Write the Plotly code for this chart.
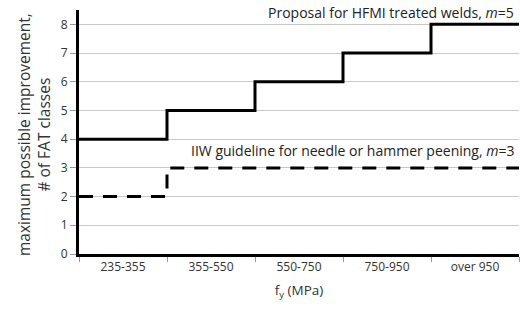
import plotly.graph_objects as go

categories = ["235-355", "355-550", "550-750", "750-950", "over 950"]
hfmi_values = [4, 5, 6, 7, 8]
iiw_values = [2, 3, 3, 3, 3]
y_ticks = [0, 1, 2, 3, 4, 5, 6, 7, 8]

n = len(categories)
edges = list(range(n + 1))
centers = [i + 0.5 for i in range(n)]

FONT = "Open Sans"
fig = go.Figure()
fig.add_trace(go.Scatter(
    x=edges, y=hfmi_values + [hfmi_values[-1]], mode="lines", line_shape="hv",
    line=dict(color="black", width=3), showlegend=False, hoverinfo="skip"))
fig.add_trace(go.Scatter(
    x=edges, y=iiw_values + [iiw_values[-1]], mode="lines", line_shape="hv",
    line=dict(color="black", width=3, dash="14px,10px"), showlegend=False, hoverinfo="skip"))

fig.add_annotation(x=5, y=8, xref="x", yref="y", text="Proposal for HFMI treated welds, <i>m</i>=5",
                   showarrow=False, xanchor="right", yanchor="bottom", yshift=0, xshift=-3,
                   font=dict(family=FONT, size=14, color="#222"))
fig.add_annotation(x=5, y=3, xref="x", yref="y", text="IIW guideline for needle or hammer peening, <i>m</i>=3",
                   showarrow=False, xanchor="right", yanchor="bottom", yshift=6, xshift=-3,
                   font=dict(family=FONT, size=14, color="#222"))
# y-axis title placed as rotated annotation for exact positioning
fig.add_annotation(x=0, y=0.5, xref="paper", yref="paper",
                   text="maximum possible improvement,<br># of FAT classes",
                   showarrow=False, textangle=-90, xanchor="center", yanchor="middle",
                   xshift=-45, yshift=-3, align="center",
                   font=dict(family=FONT, size=15.5, color="#333"))

fig.update_layout(
    width=520, height=309,
    margin=dict(l=79, r=1, t=10, b=55),
    plot_bgcolor="white", paper_bgcolor="white",
    font=dict(family=FONT, size=12, color="#333"),
    xaxis=dict(range=[0, n], tickvals=centers, ticktext=categories, ticks="", automargin=False,
               showgrid=False, zeroline=False, showline=True, linecolor="black", linewidth=3,
               minor=dict(tickvals=edges, ticks="outside", ticklen=5, tickcolor="#999", tickwidth=1),
               title=dict(text="f<sub>y</sub> (MPa)", font=dict(size=13.5, color="#333"), standoff=12),
               tickfont=dict(size=12, color="#333")),
    yaxis=dict(range=[0, 8.5], tickvals=y_ticks, ticks="outside", ticklen=6, tickcolor="#999",
               automargin=False,
               showgrid=True, gridcolor="#c8c8c8", gridwidth=1, zeroline=False,
               showline=True, linecolor="black", linewidth=3,
               tickfont=dict(size=12, color="#333")),
)
fig.write_html("out.html", post_script="document.body.style.margin='0';",
               config={"displayModeBar": False})
